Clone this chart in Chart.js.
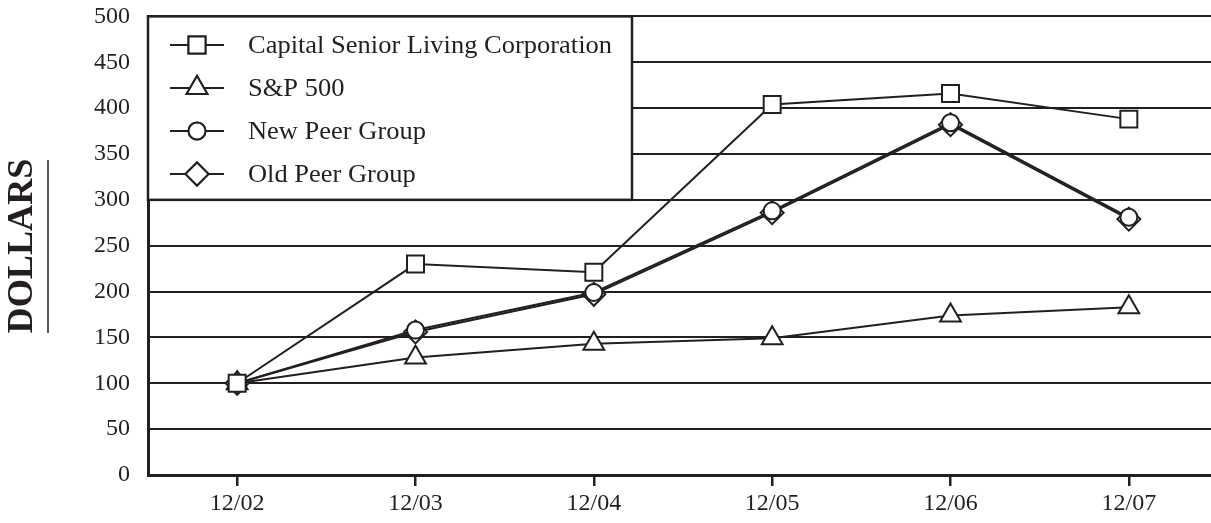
<!DOCTYPE html>
<html>
<head>
<meta charset="utf-8">
<script src="https://cdn.jsdelivr.net/npm/chart.js@4.4.1/dist/chart.umd.min.js"></script>
<style>
  html, body { margin:0; padding:0; background:#fff; overflow:hidden; }
  #wrap { width:1232px; height:539px; position:relative; margin-top:-16px; }
</style>
</head>
<body>
<div id="wrap"><canvas id="chart"></canvas></div>
<script>
// data
const years = ['12/02','12/03','12/04','12/05','12/06','12/07'];
const capital = [100, 230, 221, 404, 416, 388];
const sp500   = [100, 128, 143, 149, 174, 183];
const newPeer = [100, 158, 199, 288, 384, 281];
const oldPeer = [100, 156, 197, 286, 382, 279];
const yTicks  = [0, 50, 100, 150, 200, 250, 300, 350, 400, 450, 500];

const INK = '#231f20';
const FONT = '"Liberation Serif", "Times New Roman", serif';
const SHIFT = 16; // canvas is pulled up by this much

const series = [
  { label:'Capital Senior Living Corporation', data:capital, pointStyle:'rect',     radius:12 },
  { label:'S&P 500',                           data:sp500,   pointStyle:'triangle', radius:12 },
  { label:'New Peer Group',                    data:newPeer, pointStyle:'circle',   radius:8.5 },
  { label:'Old Peer Group',                    data:oldPeer, pointStyle:'rectRot',  radius:11.5 },
];

// legend box in the upper-left corner + the DOLLARS title
const decor = {
  id:'decor',
  afterDatasetsDraw(chart){
    const {ctx, chartArea, scales} = chart;
    const top = scales.y.getPixelForValue(500);
    const bot = scales.y.getPixelForValue(300);
    const left = chartArea.left, right = 632;
    ctx.save();
    ctx.fillStyle = '#fff';
    ctx.fillRect(left, top, right - left, bot - top);
    ctx.strokeStyle = INK; ctx.lineWidth = 2.5;
    ctx.strokeRect(left, top, right - left, bot - top);

    ctx.font = '25px ' + FONT;
    const sx = 364 / ctx.measureText(series[0].label).width;
    const rows = [45, 88, 131, 174];
    series.forEach((s, i) => {
      const y = rows[i] + SHIFT;
      ctx.strokeStyle = INK; ctx.lineWidth = 2;
      ctx.beginPath(); ctx.moveTo(170, y); ctx.lineTo(224, y); ctx.stroke();
      ctx.fillStyle = '#fff';
      Chart.helpers.drawPoint(ctx, { pointStyle:s.pointStyle, radius:s.radius, borderWidth:2 }, 197, y);
      ctx.fill(); ctx.stroke();
      ctx.save();
      ctx.translate(248, y + 1);
      ctx.scale(sx, 1);
      ctx.fillStyle = INK;
      ctx.textBaseline = 'middle';
      ctx.fillText(s.label, 0, 0);
      ctx.restore();
    });

    // y title
    ctx.translate(23, 246 + SHIFT);
    ctx.rotate(-Math.PI / 2);
    ctx.font = 'bold 35px ' + FONT;
    const w = ctx.measureText('DOLLARS').width;
    ctx.scale(175 / w, 1);
    ctx.textAlign = 'center'; ctx.textBaseline = 'middle';
    ctx.fillStyle = INK;
    ctx.fillText('DOLLARS', 0, 0);
    ctx.restore();

    ctx.save();
    ctx.strokeStyle = INK; ctx.lineWidth = 1.5;
    ctx.beginPath(); ctx.moveTo(48, 160 + SHIFT); ctx.lineTo(48, 333 + SHIFT); ctx.stroke();
    ctx.restore();
  }
};

new Chart(document.getElementById('chart'), {
  type:'line',
  data:{
    labels: years,
    datasets: series.map(s => ({
      label: s.label,
      data: s.data,
      borderColor: INK,
      borderWidth: 2,
      pointStyle: s.pointStyle,
      pointRadius: s.radius,
      pointBorderWidth: 2,
      pointBackgroundColor: '#fff',
      pointBorderColor: INK,
      tension: 0,
      fill: false
    }))
  },
  options:{
    responsive:true,
    maintainAspectRatio:false,
    animation:false,
    layout:{ padding:{ top:1, right:0, left:0, bottom:0 } },
    plugins:{ legend:{ display:false }, tooltip:{ enabled:false } },
    scales:{
      x:{
        offset:true,
        border:{ color:INK, width:3 },
        grid:{ offset:false, drawOnChartArea:false, drawTicks:true, tickLength:11, color:INK, lineWidth:2.5 },
        ticks:{ color:INK, font:{ family:FONT, size:24 }, padding:3, maxRotation:0 },
        afterFit(s){ s.height = 48; }
      },
      y:{
        min:0, max:500,
        afterBuildTicks(s){ s.ticks = yTicks.map(v => ({ value:v })); },
        border:{ color:INK, width:3 },
        grid:{ color:INK, lineWidth:2, drawTicks:false },
        ticks:{ color:INK, font:{ family:FONT, size:24 }, padding:18 },
        afterFit(s){ s.width = 148; }
      }
    }
  },
  plugins:[decor]
});
</script>
</body>
</html>
